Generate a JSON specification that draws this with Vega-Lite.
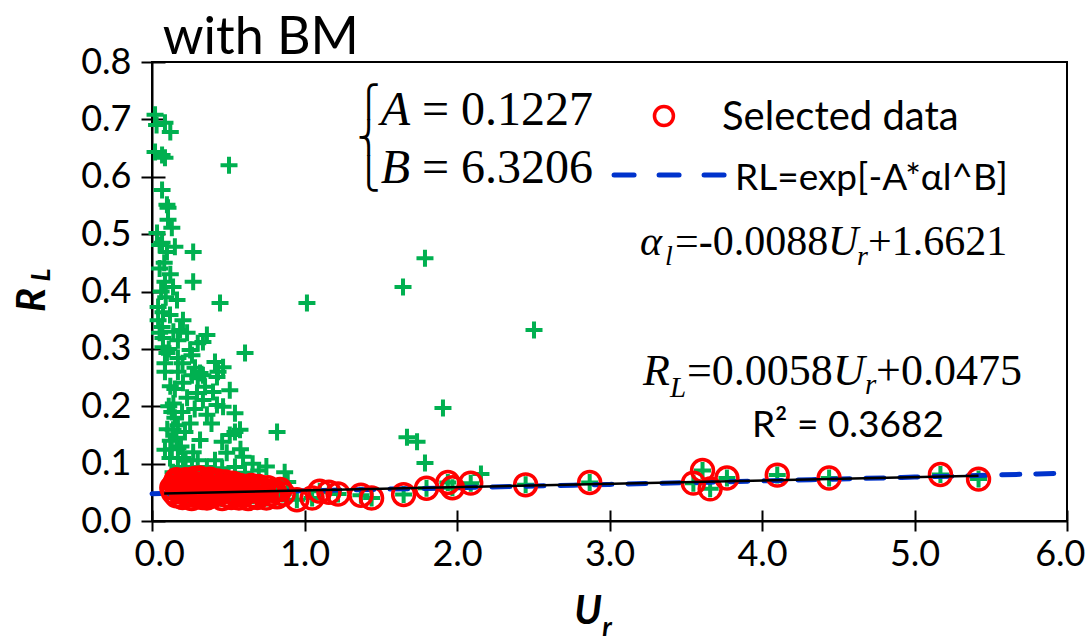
{
  "$schema": "https://vega.github.io/schema/vega-lite/v6.json",
  "width": 915,
  "height": 459,
  "autosize": {"type": "none"},
  "padding": {"left": 152, "top": 62, "right": 19, "bottom": 122},
  "background": "white",
  "config": {
    "view": {"stroke": "black", "strokeWidth": 2},
    "font": "Lato",
    "text": {"color": "black"}
  },
  "datasets": {
    "obs": [
      {"Ur":0.02,"RL":0.708,"sel":0},{"Ur":0.03,"RL":0.690,"sel":0},{"Ur":0.085,"RL":0.694,"sel":0},{"Ur":0.12,"RL":0.678,"sel":0},
      {"Ur":0.02,"RL":0.643,"sel":0},{"Ur":0.066,"RL":0.638,"sel":0},{"Ur":0.085,"RL":0.633,"sel":0},{"Ur":0.505,"RL":0.620,"sel":0},
      {"Ur":0.066,"RL":0.577,"sel":0},{"Ur":0.098,"RL":0.551,"sel":0},{"Ur":0.105,"RL":0.546,"sel":0},{"Ur":0.105,"RL":0.525,"sel":0},
      {"Ur":0.13,"RL":0.511,"sel":0},{"Ur":0.033,"RL":0.502,"sel":0},{"Ur":0.066,"RL":0.485,"sel":0},{"Ur":0.15,"RL":0.478,"sel":0},
      {"Ur":0.27,"RL":0.469,"sel":0},{"Ur":0.05,"RL":0.481,"sel":0},{"Ur":0.098,"RL":0.469,"sel":0},{"Ur":0.085,"RL":0.417,"sel":0},
      {"Ur":0.138,"RL":0.408,"sel":0},{"Ur":0.27,"RL":0.417,"sel":0},{"Ur":0.164,"RL":0.385,"sel":0},{"Ur":0.446,"RL":0.380,"sel":0},
      {"Ur":0.04,"RL":0.373,"sel":0},{"Ur":0.072,"RL":0.364,"sel":0},{"Ur":0.118,"RL":0.359,"sel":0},{"Ur":0.04,"RL":0.350,"sel":0},
      {"Ur":0.203,"RL":0.350,"sel":0},{"Ur":0.066,"RL":0.338,"sel":0},{"Ur":0.184,"RL":0.333,"sel":0},{"Ur":0.05,"RL":0.328,"sel":0},
      {"Ur":0.23,"RL":0.328,"sel":0},{"Ur":0.36,"RL":0.324,"sel":0},{"Ur":0.072,"RL":0.319,"sel":0},{"Ur":0.334,"RL":0.312,"sel":0},
      {"Ur":0.17,"RL":0.315,"sel":0},{"Ur":0.30,"RL":0.310,"sel":0},{"Ur":0.072,"RL":0.303,"sel":0},{"Ur":0.25,"RL":0.298,"sel":0},
      {"Ur":0.61,"RL":0.293,"sel":0},{"Ur":0.098,"RL":0.293,"sel":0},{"Ur":0.17,"RL":0.284,"sel":0},{"Ur":0.262,"RL":0.289,"sel":0},
      {"Ur":0.413,"RL":0.277,"sel":0},{"Ur":0.085,"RL":0.275,"sel":0},{"Ur":0.466,"RL":0.268,"sel":0},{"Ur":0.17,"RL":0.260,"sel":0},
      {"Ur":0.282,"RL":0.267,"sel":0},{"Ur":0.085,"RL":0.260,"sel":0},{"Ur":0.262,"RL":0.254,"sel":0},{"Ur":0.334,"RL":0.254,"sel":0},
      {"Ur":0.426,"RL":0.251,"sel":0},{"Ur":0.315,"RL":0.258,"sel":0},{"Ur":0.433,"RL":0.260,"sel":0},{"Ur":0.203,"RL":0.241,"sel":0},
      {"Ur":0.30,"RL":0.249,"sel":0},{"Ur":0.348,"RL":0.234,"sel":0},{"Ur":0.295,"RL":0.223,"sel":0},{"Ur":0.40,"RL":0.225,"sel":0},
      {"Ur":0.51,"RL":0.228,"sel":0},{"Ur":0.334,"RL":0.211,"sel":0},{"Ur":0.426,"RL":0.202,"sel":0},{"Ur":0.466,"RL":0.199,"sel":0},
      {"Ur":0.544,"RL":0.188,"sel":0},{"Ur":0.13,"RL":0.190,"sel":0},{"Ur":0.197,"RL":0.190,"sel":0},{"Ur":0.15,"RL":0.180,"sel":0},
      {"Ur":0.17,"RL":0.167,"sel":0},{"Ur":0.138,"RL":0.159,"sel":0},{"Ur":0.216,"RL":0.155,"sel":0},{"Ur":0.315,"RL":0.141,"sel":0},
      {"Ur":0.46,"RL":0.138,"sel":0},{"Ur":0.544,"RL":0.155,"sel":0},{"Ur":0.51,"RL":0.150,"sel":0},{"Ur":0.085,"RL":0.124,"sel":0},
      {"Ur":0.17,"RL":0.127,"sel":0},{"Ur":0.27,"RL":0.120,"sel":0},{"Ur":0.118,"RL":0.110,"sel":0},{"Ur":0.203,"RL":0.110,"sel":0},
      {"Ur":0.30,"RL":0.106,"sel":0},{"Ur":0.49,"RL":0.119,"sel":0},{"Ur":0.597,"RL":0.112,"sel":0},{"Ur":0.413,"RL":0.106,"sel":0},
      {"Ur":0.17,"RL":0.094,"sel":0},{"Ur":0.262,"RL":0.094,"sel":0},{"Ur":0.36,"RL":0.094,"sel":0},{"Ur":0.46,"RL":0.092,"sel":0},
      {"Ur":0.544,"RL":0.094,"sel":0},{"Ur":0.138,"RL":0.085,"sel":0},{"Ur":0.61,"RL":0.084,"sel":0},{"Ur":0.82,"RL":0.155,"sel":0},
      {"Ur":0.87,"RL":0.085,"sel":0},{"Ur":0.89,"RL":0.068,"sel":0},{"Ur":0.577,"RL":0.159,"sel":0},{"Ur":1.016,"RL":0.380,"sel":0},
      {"Ur":1.646,"RL":0.408,"sel":0},{"Ur":1.79,"RL":0.458,"sel":0},{"Ur":1.672,"RL":0.146,"sel":0},{"Ur":1.738,"RL":0.138,"sel":0},
      {"Ur":1.79,"RL":0.101,"sel":0},{"Ur":1.908,"RL":0.197,"sel":0},{"Ur":2.505,"RL":0.333,"sel":0},{"Ur":2.157,"RL":0.082,"sel":0},
      {"Ur":0.11,"RL":0.200,"sel":0},{"Ur":0.14,"RL":0.205,"sel":0},{"Ur":0.12,"RL":0.140,"sel":0},{"Ur":0.16,"RL":0.145,"sel":0},
      {"Ur":0.10,"RL":0.160,"sel":0},{"Ur":0.19,"RL":0.130,"sel":0},{"Ur":0.13,"RL":0.125,"sel":0},{"Ur":0.22,"RL":0.105,"sel":0},
      {"Ur":0.25,"RL":0.170,"sel":0},{"Ur":0.23,"RL":0.215,"sel":0},{"Ur":0.15,"RL":0.230,"sel":0},{"Ur":0.12,"RL":0.235,"sel":0},
      {"Ur":0.20,"RL":0.275,"sel":0},{"Ur":0.11,"RL":0.300,"sel":0},{"Ur":0.14,"RL":0.330,"sel":0},{"Ur":0.06,"RL":0.400,"sel":0},
      {"Ur":0.09,"RL":0.390,"sel":0},{"Ur":0.05,"RL":0.440,"sel":0},{"Ur":0.08,"RL":0.450,"sel":0},{"Ur":0.12,"RL":0.430,"sel":0},
      {"Ur":0.39,"RL":0.170,"sel":0},{"Ur":0.36,"RL":0.185,"sel":0},{"Ur":0.28,"RL":0.195,"sel":0},{"Ur":0.58,"RL":0.125,"sel":0},
      {"Ur":0.66,"RL":0.100,"sel":0},{"Ur":0.70,"RL":0.088,"sel":0},{"Ur":0.75,"RL":0.095,"sel":0},{"Ur":0.38,"RL":0.080,"sel":0},
      {"Ur":0.31,"RL":0.082,"sel":0},{"Ur":0.20,"RL":0.080,"sel":0},
      {"Ur":0.13,"RL":0.058,"sel":1},{"Ur":0.14,"RL":0.050,"sel":1},{"Ur":0.15,"RL":0.066,"sel":1},{"Ur":0.16,"RL":0.044,"sel":1},
      {"Ur":0.17,"RL":0.060,"sel":1},{"Ur":0.18,"RL":0.070,"sel":1},{"Ur":0.19,"RL":0.052,"sel":1},{"Ur":0.20,"RL":0.041,"sel":1},
      {"Ur":0.21,"RL":0.063,"sel":1},{"Ur":0.22,"RL":0.072,"sel":1},{"Ur":0.23,"RL":0.055,"sel":1},{"Ur":0.24,"RL":0.046,"sel":1},
      {"Ur":0.25,"RL":0.068,"sel":1},{"Ur":0.26,"RL":0.039,"sel":1},{"Ur":0.27,"RL":0.059,"sel":1},{"Ur":0.28,"RL":0.074,"sel":1},
      {"Ur":0.29,"RL":0.050,"sel":1},{"Ur":0.30,"RL":0.064,"sel":1},{"Ur":0.31,"RL":0.043,"sel":1},{"Ur":0.32,"RL":0.071,"sel":1},
      {"Ur":0.33,"RL":0.056,"sel":1},{"Ur":0.34,"RL":0.047,"sel":1},{"Ur":0.35,"RL":0.066,"sel":1},{"Ur":0.36,"RL":0.040,"sel":1},
      {"Ur":0.37,"RL":0.060,"sel":1},{"Ur":0.38,"RL":0.073,"sel":1},{"Ur":0.39,"RL":0.052,"sel":1},{"Ur":0.40,"RL":0.044,"sel":1},
      {"Ur":0.41,"RL":0.065,"sel":1},{"Ur":0.42,"RL":0.057,"sel":1},{"Ur":0.43,"RL":0.070,"sel":1},{"Ur":0.44,"RL":0.048,"sel":1},
      {"Ur":0.45,"RL":0.061,"sel":1},{"Ur":0.46,"RL":0.039,"sel":1},{"Ur":0.47,"RL":0.055,"sel":1},{"Ur":0.48,"RL":0.068,"sel":1},
      {"Ur":0.49,"RL":0.045,"sel":1},{"Ur":0.50,"RL":0.062,"sel":1},{"Ur":0.51,"RL":0.052,"sel":1},{"Ur":0.52,"RL":0.041,"sel":1},
      {"Ur":0.53,"RL":0.066,"sel":1},{"Ur":0.54,"RL":0.058,"sel":1},{"Ur":0.55,"RL":0.047,"sel":1},{"Ur":0.56,"RL":0.063,"sel":1},
      {"Ur":0.57,"RL":0.040,"sel":1},{"Ur":0.58,"RL":0.055,"sel":1},{"Ur":0.59,"RL":0.061,"sel":1},{"Ur":0.60,"RL":0.046,"sel":1},
      {"Ur":0.62,"RL":0.058,"sel":1},{"Ur":0.63,"RL":0.039,"sel":1},{"Ur":0.64,"RL":0.052,"sel":1},{"Ur":0.65,"RL":0.062,"sel":1},
      {"Ur":0.66,"RL":0.044,"sel":1},{"Ur":0.68,"RL":0.056,"sel":1},{"Ur":0.69,"RL":0.041,"sel":1},{"Ur":0.70,"RL":0.060,"sel":1},
      {"Ur":0.72,"RL":0.048,"sel":1},{"Ur":0.73,"RL":0.054,"sel":1},{"Ur":0.75,"RL":0.040,"sel":1},{"Ur":0.76,"RL":0.058,"sel":1},
      {"Ur":0.78,"RL":0.047,"sel":1},{"Ur":0.80,"RL":0.053,"sel":1},{"Ur":0.82,"RL":0.042,"sel":1},{"Ur":0.84,"RL":0.055,"sel":1},
      {"Ur":0.86,"RL":0.047,"sel":1},{"Ur":0.22,"RL":0.048,"sel":1},{"Ur":0.27,"RL":0.045,"sel":1},{"Ur":0.33,"RL":0.041,"sel":1},
      {"Ur":0.35,"RL":0.052,"sel":1},{"Ur":0.44,"RL":0.058,"sel":1},{"Ur":0.20,"RL":0.057,"sel":1},{"Ur":0.18,"RL":0.062,"sel":1},
      {"Ur":0.16,"RL":0.072,"sel":1},{"Ur":0.31,"RL":0.075,"sel":1},{"Ur":0.40,"RL":0.069,"sel":1},
      {"Ur":0.95,"RL":0.037,"sel":1},{"Ur":1.05,"RL":0.040,"sel":1},{"Ur":1.10,"RL":0.052,"sel":1},{"Ur":1.16,"RL":0.050,"sel":1},
      {"Ur":1.22,"RL":0.047,"sel":1},{"Ur":1.37,"RL":0.045,"sel":1},{"Ur":1.44,"RL":0.040,"sel":1},{"Ur":1.65,"RL":0.046,"sel":1},
      {"Ur":1.80,"RL":0.057,"sel":1},{"Ur":1.94,"RL":0.067,"sel":1},{"Ur":1.97,"RL":0.058,"sel":1},{"Ur":2.09,"RL":0.066,"sel":1},
      {"Ur":2.45,"RL":0.063,"sel":1},{"Ur":2.87,"RL":0.067,"sel":1},{"Ur":3.55,"RL":0.066,"sel":1},{"Ur":3.61,"RL":0.088,"sel":1},
      {"Ur":3.66,"RL":0.056,"sel":1},{"Ur":3.77,"RL":0.075,"sel":1},{"Ur":4.10,"RL":0.080,"sel":1},{"Ur":4.44,"RL":0.075,"sel":1},
      {"Ur":5.17,"RL":0.081,"sel":1},{"Ur":5.42,"RL":0.073,"sel":1}
    ],
    "fit": [
      {"Ur":0,"RL":0.0476},{"Ur":1,"RL":0.0527},{"Ur":2,"RL":0.0580},{"Ur":3,"RL":0.0638},
      {"Ur":4,"RL":0.0699},{"Ur":5,"RL":0.0765},{"Ur":6,"RL":0.0835}
    ],
    "trend": [
      {"Ur":0.08,"RL":0.0480},{"Ur":5.42,"RL":0.0789}
    ]
  },
  "resolve": {"axis": {"x": "independent", "y": "independent"}},
  "layer": [
    {
      "data": {"name": "obs"},
      "mark": {"type": "point", "shape": "M-1,0L1,0M0,-1L0,1", "filled": false, "stroke": "#00b050", "strokeWidth": 4, "size": 289, "opacity": 1},
      "encoding": {
        "x": {"field": "Ur", "type": "quantitative", "scale": {"domain": [0, 6], "nice": false},
          "axis": {"values": [0,1,2,3,4,5,6], "format": ".1f", "title": null, "grid": false, "labelFont": "Lato", "labelFontSize": 36, "labelColor": "black",
            "domainColor": "black", "domainWidth": 2, "tickColor": "black", "tickWidth": 2, "tickSize": 10, "labelPadding": 6, "labelFlush": true, "labelFlushOffset": 18}},
        "y": {"field": "RL", "type": "quantitative", "scale": {"domain": [0, 0.8], "nice": false, "zero": true},
          "axis": {"values": [0,0.1,0.2,0.3,0.4,0.5,0.6,0.7,0.8], "format": ".1f", "title": null, "grid": false, "labelFont": "Lato", "labelFontSize": 36, "labelColor": "black",
            "domainColor": "black", "domainWidth": 2, "tickColor": "black", "tickWidth": 2, "tickSize": 11, "labelPadding": 10, "labelFlush": false}}
      }
    },
    {
      "data": {"name": "fit"},
      "mark": {"type": "line", "color": "#0033cc", "strokeWidth": 5, "strokeDash": [18, 16], "strokeCap": "round", "interpolate": "monotone"},
      "encoding": {
        "x": {"field": "Ur", "type": "quantitative", "axis": null},
        "y": {"field": "RL", "type": "quantitative", "axis": null}
      }
    },
    {
      "data": {"name": "obs"},
      "transform": [{"filter": "datum.sel == 1"}],
      "mark": {"type": "point", "shape": "circle", "filled": false, "stroke": "#ff0000", "strokeWidth": 3.5, "size": 480, "opacity": 1},
      "encoding": {
        "x": {"field": "Ur", "type": "quantitative",
          "axis": {"orient": "bottom", "values": [0,1,2,3,4,5,6], "labels": false, "domain": false, "grid": false, "title": null, "tickColor": "black", "tickWidth": 2, "tickSize": -11}},
        "y": {"field": "RL", "type": "quantitative",
          "axis": {"orient": "left", "values": [0,0.1,0.2,0.3,0.4,0.5,0.6,0.7,0.8], "labels": false, "domain": false, "grid": false, "title": null, "tickColor": "black", "tickWidth": 2, "tickSize": -13}}
      }
    },
    {
      "data": {"name": "trend"},
      "mark": {"type": "line", "color": "black", "strokeWidth": 2.5},
      "encoding": {
        "x": {"field": "Ur", "type": "quantitative", "axis": null},
        "y": {"field": "RL", "type": "quantitative", "axis": null}
      }
    },
    {
      "data": {"values": [{}]},
      "mark": {"type": "text", "text": "with BM", "font": "Lato", "fontSize": 52, "align": "left", "baseline": "alphabetic"},
      "encoding": {"x": {"datum": 0.07, "axis": null}, "y": {"datum": 0.814, "axis": null}}
    },
    {
      "data": {"values": [{}]},
      "mark": {"type": "point", "shape": "circle", "filled": false, "stroke": "#ff0000", "strokeWidth": 3.5, "size": 360, "opacity": 1},
      "encoding": {"x": {"datum": 3.357, "axis": null}, "y": {"datum": 0.706, "axis": null}}
    },
    {
      "data": {"values": [{}]},
      "mark": {"type": "rule", "color": "#0033cc", "strokeWidth": 5, "strokeDash": [20, 25], "strokeCap": "round"},
      "encoding": {"x": {"datum": 3.03, "axis": null}, "x2": {"datum": 3.797}, "y": {"datum": 0.603, "axis": null}}
    },
    {
      "data": {"values": [{}]},
      "mark": {"type": "text", "text": "Selected data", "font": "Lato", "fontSize": 40, "align": "left", "baseline": "alphabetic"},
      "encoding": {"x": {"datum": 3.738, "axis": null}, "y": {"datum": 0.6815, "axis": null}}
    },
    {
      "data": {"values": [{}]},
      "mark": {"type": "text", "text": "RL=exp[-A*αl^B]", "font": "Lato", "fontSize": 37, "align": "left", "baseline": "alphabetic"},
      "encoding": {"x": {"datum": 3.823, "axis": null}, "y": {"datum": 0.577, "axis": null}}
    },
    {
      "data": {"values": [{}]},
      "mark": {"type": "text", "text": "R² = 0.3682", "font": "Lato", "fontSize": 37, "align": "left", "baseline": "alphabetic"},
      "encoding": {"x": {"datum": 3.934, "axis": null}, "y": {"datum": 0.147, "axis": null}}
    },
    {
      "data": {"values": [{}]},
      "mark": {"type": "text", "text": "A", "font": "Liberation Serif", "fontStyle": "italic", "fontSize": 48, "align": "left", "baseline": "alphabetic"},
      "encoding": {"x": {"datum": 1.5, "axis": null}, "y": {"datum": 0.690, "axis": null}}
    },
    {
      "data": {"values": [{}]},
      "mark": {"type": "text", "text": "= 0.1227", "font": "Liberation Serif", "fontSize": 48, "align": "left", "baseline": "alphabetic"},
      "encoding": {"x": {"datum": 1.77, "axis": null}, "y": {"datum": 0.690, "axis": null}}
    },
    {
      "data": {"values": [{}]},
      "mark": {"type": "text", "text": "B", "font": "Liberation Serif", "fontStyle": "italic", "fontSize": 48, "align": "left", "baseline": "alphabetic"},
      "encoding": {"x": {"datum": 1.5, "axis": null}, "y": {"datum": 0.589, "axis": null}}
    },
    {
      "data": {"values": [{}]},
      "mark": {"type": "text", "text": "= 6.3206", "font": "Liberation Serif", "fontSize": 48, "align": "left", "baseline": "alphabetic"},
      "encoding": {"x": {"datum": 1.77, "axis": null}, "y": {"datum": 0.589, "axis": null}}
    },
    {
      "data": {"values": [{}]},
      "mark": {"type": "text", "text": "⎧", "font": "DejaVu Sans", "fontSize": 31, "fontWeight": "normal", "align": "center", "baseline": "middle"},
      "encoding": {"x": {"datum": 1.42, "axis": null}, "y": {"datum": 0.7285, "axis": null}}
    },
    {
      "data": {"values": [{}]},
      "mark": {"type": "text", "text": "⎨", "font": "DejaVu Sans", "fontSize": 31, "fontWeight": "normal", "align": "center", "baseline": "middle"},
      "encoding": {"x": {"datum": 1.42, "axis": null}, "y": {"datum": 0.666, "axis": null}}
    },
    {
      "data": {"values": [{}]},
      "mark": {"type": "text", "text": "⎩", "font": "DejaVu Sans", "fontSize": 31, "fontWeight": "normal", "align": "center", "baseline": "middle"},
      "encoding": {"x": {"datum": 1.42, "axis": null}, "y": {"datum": 0.6035, "axis": null}}
    },
    {
      "data": {"values": [{}]},
      "mark": {"type": "text", "text": "α", "font": "Liberation Serif", "fontStyle": "italic", "fontSize": 42, "align": "left", "baseline": "alphabetic"},
      "encoding": {"x": {"datum": 3.2, "axis": null}, "y": {"datum": 0.4636, "axis": null}}
    },
    {
      "data": {"values": [{}]},
      "mark": {"type": "text", "text": "l", "font": "Liberation Serif", "fontStyle": "italic", "fontSize": 28, "align": "left", "baseline": "alphabetic"},
      "encoding": {"x": {"datum": 3.364, "axis": null}, "y": {"datum": 0.446, "axis": null}}
    },
    {
      "data": {"values": [{}]},
      "mark": {"type": "text", "text": "=-0.0088", "font": "Liberation Serif", "fontSize": 42, "align": "left", "baseline": "alphabetic"},
      "encoding": {"x": {"datum": 3.43, "axis": null}, "y": {"datum": 0.4636, "axis": null}}
    },
    {
      "data": {"values": [{}]},
      "mark": {"type": "text", "text": "U", "font": "Liberation Serif", "fontStyle": "italic", "fontSize": 42, "align": "left", "baseline": "alphabetic"},
      "encoding": {"x": {"datum": 4.433, "axis": null}, "y": {"datum": 0.4636, "axis": null}}
    },
    {
      "data": {"values": [{}]},
      "mark": {"type": "text", "text": "r", "font": "Liberation Serif", "fontStyle": "italic", "fontSize": 28, "align": "left", "baseline": "alphabetic"},
      "encoding": {"x": {"datum": 4.623, "axis": null}, "y": {"datum": 0.446, "axis": null}}
    },
    {
      "data": {"values": [{}]},
      "mark": {"type": "text", "text": "+1.6621", "font": "Liberation Serif", "fontSize": 42, "align": "left", "baseline": "alphabetic"},
      "encoding": {"x": {"datum": 4.695, "axis": null}, "y": {"datum": 0.4636, "axis": null}}
    },
    {
      "data": {"values": [{}]},
      "mark": {"type": "text", "text": "R", "font": "Liberation Serif", "fontStyle": "italic", "fontSize": 44, "align": "left", "baseline": "alphabetic"},
      "encoding": {"x": {"datum": 3.22, "axis": null}, "y": {"datum": 0.237, "axis": null}}
    },
    {
      "data": {"values": [{}]},
      "mark": {"type": "text", "text": "L", "font": "Liberation Serif", "fontStyle": "italic", "fontSize": 29, "align": "left", "baseline": "alphabetic"},
      "encoding": {"x": {"datum": 3.397, "axis": null}, "y": {"datum": 0.216, "axis": null}}
    },
    {
      "data": {"values": [{}]},
      "mark": {"type": "text", "text": "=0.0058", "font": "Liberation Serif", "fontSize": 44, "align": "left", "baseline": "alphabetic"},
      "encoding": {"x": {"datum": 3.508, "axis": null}, "y": {"datum": 0.237, "axis": null}}
    },
    {
      "data": {"values": [{}]},
      "mark": {"type": "text", "text": "U", "font": "Liberation Serif", "fontStyle": "italic", "fontSize": 44, "align": "left", "baseline": "alphabetic"},
      "encoding": {"x": {"datum": 4.466, "axis": null}, "y": {"datum": 0.237, "axis": null}}
    },
    {
      "data": {"values": [{}]},
      "mark": {"type": "text", "text": "r", "font": "Liberation Serif", "fontStyle": "italic", "fontSize": 29, "align": "left", "baseline": "alphabetic"},
      "encoding": {"x": {"datum": 4.675, "axis": null}, "y": {"datum": 0.221, "axis": null}}
    },
    {
      "data": {"values": [{}]},
      "mark": {"type": "text", "text": "+0.0475", "font": "Liberation Serif", "fontSize": 44, "align": "left", "baseline": "alphabetic"},
      "encoding": {"x": {"datum": 4.748, "axis": null}, "y": {"datum": 0.237, "axis": null}}
    },
    {
      "data": {"values": [{}]},
      "mark": {"type": "text", "text": "R", "font": "Lato", "fontStyle": "italic", "fontWeight": "bold", "fontSize": 40, "angle": 270, "align": "center", "baseline": "middle"},
      "encoding": {"x": {"datum": -0.78, "axis": null}, "y": {"datum": 0.385, "axis": null}}
    },
    {
      "data": {"values": [{}]},
      "mark": {"type": "text", "text": "L", "font": "Lato", "fontStyle": "italic", "fontWeight": "bold", "fontSize": 27, "angle": 270, "align": "center", "baseline": "middle"},
      "encoding": {"x": {"datum": -0.721, "axis": null}, "y": {"datum": 0.429, "axis": null}}
    },
    {
      "data": {"values": [{}]},
      "mark": {"type": "text", "text": "U", "font": "Lato", "fontStyle": "italic", "fontWeight": "bold", "fontSize": 40, "align": "center", "baseline": "middle"},
      "encoding": {"x": {"datum": 2.859, "axis": null}, "y": {"datum": -0.159, "axis": null}}
    },
    {
      "data": {"values": [{}]},
      "mark": {"type": "text", "text": "r", "font": "Lato", "fontStyle": "italic", "fontWeight": "bold", "fontSize": 27, "align": "center", "baseline": "middle"},
      "encoding": {"x": {"datum": 2.984, "axis": null}, "y": {"datum": -0.186, "axis": null}}
    }
  ]
}
